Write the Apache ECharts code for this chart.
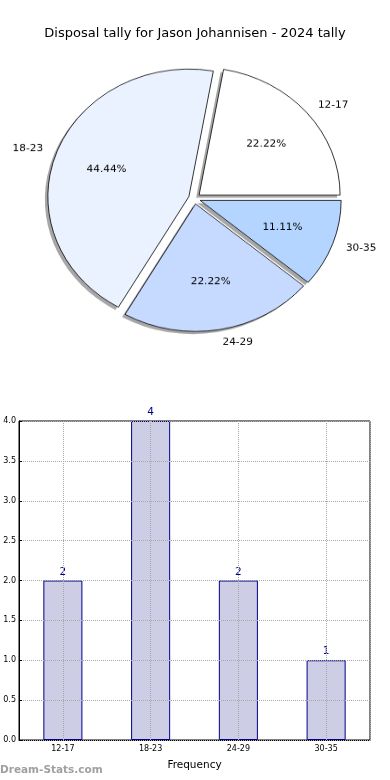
<!DOCTYPE html>
<html><head><meta charset="utf-8">
<script src="https://cdn.jsdelivr.net/npm/echarts@6/dist/echarts.min.js"></script>
<style>
html,body{margin:0;padding:0;background:#fff;}
#main{position:absolute;left:0;top:0;width:390px;height:780px;}
#pie{position:absolute;left:0;top:0;width:390px;height:440px;transform-origin:0 0;transform:scaleY(0.905);}
</style></head><body>
<div id="main"></div><div id="pie"></div>
<script>
const titleText = 'Disposal tally for Jason Johannisen - 2024 tally';
const categories = ['12-17', '18-23', '24-29', '30-35'];
const counts = [2, 4, 2, 1];
const sliceColors = ['#ffffff', '#ebf2ff', '#c6d9ff', '#b3d5ff'];
const yMin = 0, yMax = 4, yStep = 0.5;

const FONT = 'DejaVu Sans';
const S = 0.905;
const R = 141;
const CX = 194.5, CY = 198.5 / S;
const total = counts.reduce((a, b) => a + b, 0);

const pie = echarts.init(document.getElementById('pie'));
const main = echarts.init(document.getElementById('main'));

const pieData = categories.map((c, i) => ({
  name: c, value: counts[i], selected: true,
  itemStyle: { color: sliceColors[i] }
}));
const plainData = categories.map((c, i) => ({ name: c, value: counts[i], selected: true }));

const common = { startAngle: 0, clockwise: false, selectedMode: 'multiple', selectedOffset: 6,
  avoidLabelOverlap: false, emphasis: { disabled: true }, labelLine: { show: false } };

pie.setOption({
  animation: false,
  series: [Object.assign({}, common, {
    type: 'pie', center: [CX - 3, CY + 3], radius: R, silent: true,
    itemStyle: { color: 'rgba(60,60,60,0.45)', borderWidth: 0 },
    label: { show: false },
    data: plainData
  }), Object.assign({}, common, {
    type: 'pie', center: [CX, CY], radius: R,
    itemStyle: { borderColor: '#000', borderWidth: 0.8 },
    label: { show: true, position: 'outside', fontFamily: FONT, fontSize: 10.5, color: '#000', distanceToLabelLine: 0 },
    labelLine: { show: false, length: R * 0.1, length2: 0 },
    data: pieData
  }), Object.assign({}, common, {
    type: 'pie', center: [CX, CY], radius: R * 1.2, silent: true,
    itemStyle: { color: 'rgba(0,0,0,0)', borderWidth: 0 },
    label: { show: true, position: 'inside', fontFamily: FONT, fontSize: 10.5, color: '#000',
      formatter: p => (p.value / total * 100).toFixed(2) + '%' },
    data: plainData
  })]
});

main.setOption({
  animation: false,
  title: { text: titleText, left: 'center', top: 22,
    textStyle: { fontFamily: FONT, fontSize: 13, fontWeight: 'normal', color: '#000' } },
  grid: { left: 19, right: 20, top: 421, bottom: 40, show: true, borderColor: '#000', borderWidth: 1 },
  xAxis: [{
    type: 'category', data: categories,
    axisLine: { lineStyle: { color: '#000' } },
    axisTick: { alignWithLabel: true, inside: true, length: 3, lineStyle: { color: '#000' } },
    axisLabel: { fontSize: 8, color: '#000', margin: 5, fontFamily: FONT },
    name: 'Frequency', nameLocation: 'middle', nameGap: 20,
    nameTextStyle: { fontSize: 10.5, color: '#000', fontFamily: FONT },
    splitLine: { show: false }
  }, {
    type: 'value', min: -0.5, max: categories.length - 0.5, z: 3,
    axisLine: { show: false }, axisTick: { show: false }, axisLabel: { show: false },
    splitLine: { show: true, lineStyle: { type: 'dotted', color: '#a8a8a8' } }
  }],
  yAxis: {
    type: 'value', min: yMin, max: yMax, interval: yStep, z: 3,
    axisLine: { show: true, onZero: false, lineStyle: { color: '#000' } },
    axisTick: { show: true, inside: true, length: 3, lineStyle: { color: '#000' } },
    axisLabel: { formatter: v => v.toFixed(1), fontSize: 8, color: '#000', margin: 3, fontFamily: FONT },
    splitLine: { show: true, lineStyle: { type: 'dotted', color: '#a8a8a8' } }
  },
  series: [{
    type: 'bar', data: counts, barWidth: '44.5%', xAxisIndex: 0,
    itemStyle: { color: '#cdcde6', borderColor: '#00008b', borderWidth: 1 },
    label: { show: true, position: 'top', distance: 3, color: '#00008b', fontSize: 10.5, fontFamily: FONT }
  }],
  graphic: [{
    type: 'text', left: 0, top: 765,
    style: { text: 'Dream-Stats.com', fontSize: 10.5, fontWeight: 'bold', fill: '#a0a0a0', fontFamily: FONT }
  }]
});
</script>
</body></html>
